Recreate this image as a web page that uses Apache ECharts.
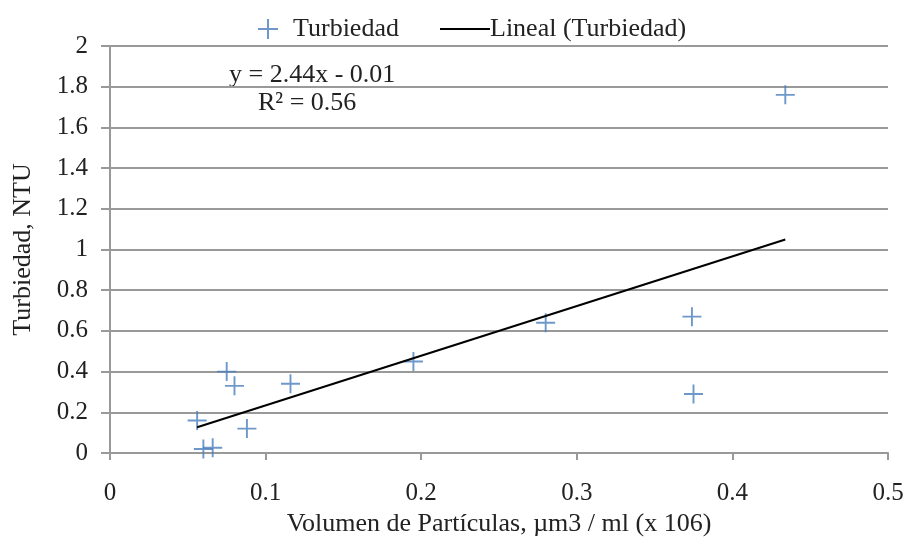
<!DOCTYPE html>
<html>
<head>
<meta charset="utf-8">
<script src="https://cdn.jsdelivr.net/npm/echarts@6/dist/echarts.min.js"></script>
<style>
  html, body { margin: 0; padding: 0; background: #fff; }
  #chart { width: 906px; height: 538px; }
</style>
</head>
<body>
<div id="chart"></div>
<script>
// Particle volume (x 10^6 µm3/ml) vs. turbidity (NTU)
const volumen = [0.056, 0.060, 0.066, 0.075, 0.080, 0.088, 0.116, 0.195, 0.280, 0.374, 0.375, 0.434];
const turbiedad = [0.16, 0.02, 0.026, 0.40, 0.33, 0.12, 0.34, 0.45, 0.64, 0.67, 0.29, 1.76];

// Linear trend line coefficients and fit quality
const pendiente = 2.44;
const intercepto = -0.01;
const r2 = 0.56;

const xTicks = [0, 0.1, 0.2, 0.3, 0.4, 0.5];
const yTicks = [0, 0.2, 0.4, 0.6, 0.8, 1, 1.2, 1.4, 1.6, 1.8, 2];

const puntos = volumen.map((v, i) => [v, turbiedad[i]]);
const xMin = Math.min(...volumen), xMax = Math.max(...volumen);
const tendencia = [xMin, xMax].map(x => [x, pendiente * x + intercepto]);

const FONT = '"Liberation Serif", "Times New Roman", serif';
const TXT = '#222';
const FS = 26;
const cross = 'path://M9,0h2v20h-2z M0,9h20v2h-20z';

const chart = echarts.init(document.getElementById('chart'));
chart.setOption({
  animation: false,
  backgroundColor: '#fff',
  textStyle: { fontFamily: FONT, color: TXT },
  grid: { left: 110, right: 18, top: 46, bottom: 85, containLabel: false, outerBoundsMode: 'none' },
  legend: [
    {
      data: ['Turbiedad'],
      left: 253, top: 11,
      itemWidth: 20, itemHeight: 20, itemGap: 10,
      textStyle: { fontFamily: FONT, fontSize: FS, color: TXT, padding: [0, 0, 0, 10] }
    },
    {
      data: [{ name: 'Lineal (Turbiedad)', icon: 'rect' }],
      left: 435, top: 11,
      itemWidth: 50, itemHeight: 2,
      itemStyle: { color: '#000' },
      textStyle: { fontFamily: FONT, fontSize: FS, color: TXT, padding: [0, 0, 0, -5] }
    }
  ],
  xAxis: {
    type: 'value', min: 0, max: 0.5, interval: 0.1,
    name: 'Volumen de Partículas, µm3 / ml (x 106)',
    nameLocation: 'middle', nameGap: 56,
    nameTextStyle: { fontFamily: FONT, fontSize: FS, color: TXT },
    axisLine: { show: true, lineStyle: { color: '#999', width: 2 } },
    axisTick: { show: true, length: 7, lineStyle: { color: '#999', width: 2 } },
    axisLabel: { fontFamily: FONT, fontSize: 25, color: TXT, margin: 28,
      formatter: v => xTicks.includes(+v.toFixed(1)) ? String(+v.toFixed(1)) : '' },
    splitLine: { show: false }
  },
  yAxis: {
    type: 'value', min: 0, max: 2, interval: 0.2,
    name: 'Turbiedad, NTU',
    nameLocation: 'middle', nameGap: 74, nameRotate: 90,
    nameTextStyle: { fontFamily: FONT, fontSize: FS, color: TXT },
    axisLine: { show: true, lineStyle: { color: '#999', width: 2 } },
    axisTick: { show: true, length: 9, lineStyle: { color: '#999', width: 2 } },
    axisLabel: { fontFamily: FONT, fontSize: 25, color: TXT, margin: 22,
      formatter: v => yTicks.some(t => Math.abs(t - v) < 1e-9) ? String(+v.toFixed(1)) : '' },
    splitLine: { show: true, lineStyle: { color: '#999', width: 2 } }
  },
  graphic: [
    { type: 'text', left: 229, top: 62,
      style: { text: 'y = ' + pendiente.toFixed(2) + 'x - ' + Math.abs(intercepto).toFixed(2),
        font: FS + 'px ' + FONT, fill: TXT } },
    { type: 'text', left: 258, top: 90,
      style: { text: 'R² = ' + r2.toFixed(2), font: FS + 'px ' + FONT, fill: TXT } }
  ],
  series: [
    {
      name: 'Turbiedad', type: 'scatter',
      data: puntos, symbol: cross, symbolSize: 19,
      itemStyle: { color: '#4a7ebb' }, z: 3
    },
    {
      name: 'Lineal (Turbiedad)', type: 'line',
      data: tendencia, symbol: 'none',
      lineStyle: { color: '#000', width: 2 },
      itemStyle: { color: '#000' }, z: 4
    }
  ]
});
</script>
</body>
</html>
